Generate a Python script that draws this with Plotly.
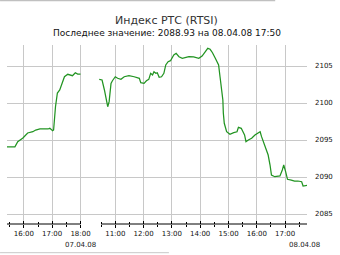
import plotly.graph_objects as go

# ---- data ----
day1_label = "07.04.08"
day2_label = "08.04.08"
day1_times = ["15:24", "15:41", "15:47", "15:58", "16:08", "16:19", "16:25", "16:34", "16:51",
              "16:55", "17:01", "17:03", "17:07", "17:11", "17:16", "17:22", "17:26", "17:33",
              "17:39", "17:43", "17:49", "17:54", "18:00"]
day1_values = [2094.09, 2094.09, 2094.77, 2095.27, 2095.95, 2096.12, 2096.35, 2096.49, 2096.49,
               2096.58, 2096.26, 2096.35, 2099.50, 2101.35, 2101.76, 2102.88, 2103.55, 2103.88,
               2103.78, 2103.69, 2104.09, 2103.92, 2103.92]
day2_times = ["10:26", "10:32", "10:37", "10:40", "10:44", "10:47", "10:51", "10:54", "11:00",
              "11:05", "11:12", "11:19", "11:29", "11:40", "11:51", "11:54", "12:01", "12:06",
              "12:11", "12:15", "12:19", "12:22", "12:26", "12:29", "12:33", "12:38", "12:43",
              "12:47", "12:52", "12:57", "13:04", "13:09", "13:15", "13:22", "13:29", "13:36",
              "13:46", "13:57", "14:04", "14:11", "14:16", "14:21", "14:26", "14:32", "14:39",
              "14:42", "14:46", "14:48", "14:49", "14:51", "14:56", "15:03", "15:11", "15:18",
              "15:21", "15:27", "15:34", "15:37", "15:42", "15:49", "15:56", "16:07", "16:10",
              "16:14", "16:19", "16:24", "16:28", "16:31", "16:38", "16:49", "16:54", "16:57",
              "17:01", "17:05", "17:13", "17:20", "17:27", "17:35", "17:38", "17:45", "17:50"]
day2_values = [2103.20, 2103.11, 2101.76, 2100.64, 2099.50, 2100.18, 2102.66, 2103.01, 2103.55,
               2103.34, 2103.20, 2103.55, 2103.69, 2103.55, 2103.34, 2102.74, 2102.66, 2103.01,
               2103.20, 2104.01, 2103.78, 2104.23, 2104.01, 2104.09, 2103.47, 2103.55, 2104.01,
               2105.14, 2105.58, 2105.72, 2106.49, 2106.72, 2106.26, 2106.04, 2106.18, 2106.26,
               2106.22, 2106.04, 2106.35, 2106.93, 2107.39, 2107.26, 2106.80, 2106.04, 2105.14,
               2103.55, 2101.53, 2100.41, 2098.65, 2097.26, 2096.12, 2095.77, 2095.99, 2096.12,
               2096.72, 2096.58, 2095.68, 2094.77, 2095.00, 2095.23, 2095.68, 2096.12, 2095.45,
               2094.77, 2094.09, 2092.97, 2091.62, 2090.27, 2090.04, 2090.14, 2090.95, 2091.62,
               2090.72, 2089.69, 2089.59, 2089.46, 2089.46, 2089.36, 2088.78, 2088.92, 2088.93]
day1_hours = ["16:00", "17:00", "18:00"]
day1_half = ["15:30", "16:30", "17:30"]
day2_hours = ["11:00", "12:00", "13:00", "14:00", "15:00", "16:00", "17:00"]
day2_half = ["10:30", "11:30", "12:30", "13:30", "14:30", "15:30", "16:30", "17:30"]
y_ticks = [2085, 2090, 2095, 2100, 2105]
title = "Индекс РТС (RTSI)"
subtitle = "Последнее значение: 2088.93 на 08.04.08 17:50"

# ---- layout helpers ----
GAP = 35 / 28.5            # visual gap between sessions, in hours
DAY2_OFFSET = 18 + GAP - 11


def pos(t, offset=0.0):
    h, m = t.split(":")
    return int(h) + int(m) / 60 + offset


x1 = [pos(t) for t in day1_times]
x2 = [pos(t, DAY2_OFFSET) for t in day2_times]
major = [pos(t) for t in day1_hours] + [pos(t, DAY2_OFFSET) for t in day2_hours]
minor = [pos(t) for t in day1_half] + [pos(t, DAY2_OFFSET) for t in day2_half]
xrange_ = [15.404, 26.0]
yrange_ = [2083.65, 2107.84]

GREEN = "#229422"
GRID = "#c8c8c8"
FONT = "DejaVu Sans"

fig = go.Figure()
fig.add_trace(go.Scatter(x=x1, y=day1_values, mode="lines",
                         line=dict(color=GREEN, width=1.25), hoverinfo="skip"))
fig.add_trace(go.Scatter(x=x2, y=day2_values, mode="lines",
                         line=dict(color=GREEN, width=1.25), hoverinfo="skip"))
# dummy trace for overlay axis (inside ticks)
fig.add_trace(go.Scatter(x=[x1[0]], y=[day1_values[0]], xaxis="x2", mode="markers",
                         marker=dict(opacity=0), hoverinfo="skip"))

tick_common = dict(range=xrange_, tickvals=major, ticklen=3, tickwidth=1, tickcolor="#000",
                   zeroline=False, showline=False, fixedrange=True)
fig.update_layout(
    width=340, height=255,
    margin=dict(l=7, r=31, t=45, b=31),
    paper_bgcolor="white", plot_bgcolor="white",
    showlegend=False,
    xaxis=dict(**tick_common, ticks="outside", ticktext=day1_hours + day2_hours,
               showgrid=True, gridcolor=GRID, gridwidth=1,
               tickfont=dict(family=FONT, size=7, color="#111"),
               minor=dict(tickvals=minor, ticks="outside", ticklen=2, tickcolor="#000",
                          showgrid=False)),
    xaxis2=dict(**tick_common, overlaying="x", anchor="y", side="bottom", ticks="inside",
                showticklabels=False, showgrid=False,
                minor=dict(tickvals=minor, ticks="inside", ticklen=2, tickcolor="#000",
                           showgrid=False)),
    yaxis=dict(range=yrange_, tickvals=y_ticks, side="right", ticks="",
               showgrid=True, gridcolor=GRID, gridwidth=1, zeroline=False, showline=False,
               ticklabelstandoff=7,
               tickfont=dict(family=FONT, size=7, color="#111"), fixedrange=True),
)

# broken axis line
fig.add_shape(type="line", xref="x", yref="paper", x0=xrange_[0], x1=pos(day1_hours[-1]),
              y0=0, y1=0, line=dict(color="#000", width=1))
fig.add_shape(type="line", xref="x", yref="paper", x0=pos(day2_half[0], DAY2_OFFSET),
              x1=xrange_[1], y0=0, y1=0, line=dict(color="#000", width=1))
# page border lines
fig.add_shape(type="line", xref="paper", yref="paper", x0=-7 / 302, x1=270 / 302,
              y0=223.5 / 179, y1=223.5 / 179, line=dict(color="#c0c0c0", width=1.5))
fig.add_shape(type="line", xref="paper", yref="paper", x0=-7 / 302, x1=163 / 302,
              y0=-28.7 / 179, y1=-28.7 / 179, line=dict(color="#c8c8c8", width=1))

fig.add_annotation(text=title, xref="paper", yref="paper", x=161 / 302, y=204 / 179,
                   showarrow=False, xanchor="center", yanchor="middle",
                   font=dict(family=FONT, size=11, color="#333"))
fig.add_annotation(text=subtitle, xref="paper", yref="paper", x=161.5 / 302, y=191.5 / 179,
                   showarrow=False, xanchor="center", yanchor="middle",
                   font=dict(family=FONT, size=9, color="#111"))
fig.add_annotation(text=day1_label, xref="x", yref="paper", x=pos(day1_hours[-1]),
                   y=-21 / 179, showarrow=False, xanchor="center", yanchor="middle",
                   font=dict(family=FONT, size=7, color="#222"))
fig.add_annotation(text=day2_label, xref="paper", yref="paper", x=299 / 302,
                   y=-21 / 179, showarrow=False, xanchor="center", yanchor="middle",
                   font=dict(family=FONT, size=7, color="#222"))

fig.write_html("out.html", config=dict(displayModeBar=False))
